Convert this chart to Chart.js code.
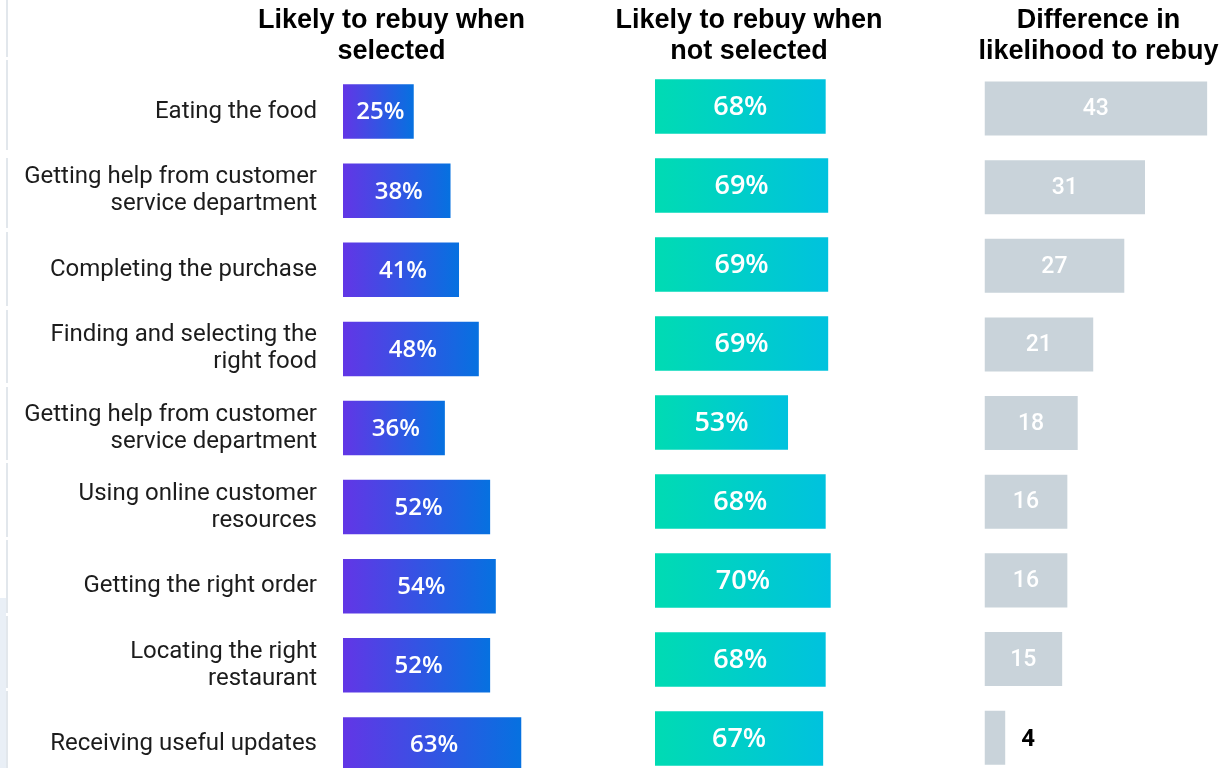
<!DOCTYPE html>
<html>
<head>
<meta charset="utf-8">
<script src="https://cdn.jsdelivr.net/npm/chart.js@4.4.1/dist/chart.umd.min.js"></script>
<style>
  html, body { margin: 0; padding: 0; background: #ffffff; overflow: hidden; }
  #stage { position: relative; width: 1232px; height: 768px; overflow: hidden; background: #ffffff; }
  #stage canvas { position: absolute; top: 0; }
</style>
</head>
<body>
<div id="stage">
  <canvas id="selectedChart" width="783" height="784" style="left:0px"></canvas>
  <canvas id="notSelectedChart" width="314" height="778" style="left:592px"></canvas>
  <canvas id="differenceChart" width="267" height="777" style="left:965px"></canvas>
</div>
<script>
// Customer journey steps (shared row order for all three panels)
const categories = [
  ["Eating the food"],
  ["Getting help from customer", "service department"],
  ["Completing the purchase"],
  ["Finding and selecting the", "right food"],
  ["Getting help from customer", "service department"],
  ["Using online customer", "resources"],
  ["Getting the right order"],
  ["Locating the right", "restaurant"],
  ["Receiving useful updates"]
];

// Share likely to rebuy, in percent
const selectedValues = [25, 38, 41, 48, 36, 52, 54, 52, 63];
const notSelectedValues = [68, 69, 69, 69, 53, 68, 70, 68, 67];

// Difference in likelihood to rebuy, percentage points
const differenceValues = [43, 31, 27, 21, 18, 16, 16, 15, 4];

// Panel headings
const panelTitles = [
  ["Likely to rebuy when", "selected"],
  ["Likely to rebuy when", "not selected"],
  ["Difference in", "likelihood to rebuy"]
];

const TITLE_FONT = { family: "'Liberation Sans', Arial, sans-serif", size: 27, weight: "bold", lineHeight: 31 / 27 };
const LABEL_FONT = "'Roboto', 'Noto Sans', sans-serif";
const VALUE_FONT = "'Open Sans', 'Noto Sans', sans-serif";

// Writes each bar's value inside it, or just past its end when the bar is too short
const barValueLabels = {
  id: "barValueLabels",
  afterDatasetsDraw(chart, args, opts) {
    const ctx = chart.ctx;
    const meta = chart.getDatasetMeta(0);
    const values = chart.data.datasets[0].data;
    meta.data.forEach((bar, i) => {
      const text = values[i] + (opts.suffix || "");
      const width = Math.abs(bar.x - bar.base);
      ctx.save();
      ctx.textBaseline = "middle";
      if (width < opts.minInside) {
        ctx.font = opts.outsideFont;
        ctx.fillStyle = opts.outsideColor;
        ctx.textAlign = "left";
        ctx.fillText(text, bar.x + opts.outsideGap, bar.y + 2);
      } else {
        ctx.font = opts.font;
        ctx.fillStyle = opts.color;
        ctx.textAlign = "center";
        ctx.fillText(text, (bar.x + bar.base) / 2 + (opts.dx || 0), bar.y + 1);
      }
      ctx.restore();
    });
  }
};

// Thin segmented rule along the left edge of the page
const edgeRule = {
  id: "edgeRule",
  beforeDraw(chart) {
    const ctx = chart.ctx;
    const cuts = [0, 57, 60, 150, 158, 228, 232, 306, 310, 383, 387, 460, 463, 537, 540, 613, 616, 688, 691, 784];
    ctx.save();
    ctx.fillStyle = "#e9eff6";
    ctx.fillRect(0, 598, 6, 186);
    ctx.strokeStyle = "#e2e7ec";
    ctx.lineWidth = 2;
    for (let i = 0; i < cuts.length; i += 2) {
      ctx.beginPath();
      ctx.moveTo(7, cuts[i]);
      ctx.lineTo(7, cuts[i + 1]);
      ctx.stroke();
    }
    ctx.restore();
  }
};

function gradientFill(fromColor, toColor) {
  return function (context) {
    const chart = context.chart;
    const xScale = chart.scales.x;
    if (!chart.chartArea || !xScale) return fromColor;
    const x0 = xScale.getPixelForValue(0);
    const x1 = xScale.getPixelForValue(context.raw);
    if (!isFinite(x0) || !isFinite(x1) || x1 - x0 < 1) return fromColor;
    const g = chart.ctx.createLinearGradient(x0, 0, x1, 0);
    g.addColorStop(0, fromColor);
    g.addColorStop(1, toColor);
    return g;
  };
}

function buildPanel(canvasId, values, title, opts) {
  return new Chart(document.getElementById(canvasId), {
    type: "bar",
    data: {
      labels: categories,
      datasets: [{
        data: values,
        backgroundColor: opts.fill,
        borderWidth: 0,
        categoryPercentage: 1,
        barPercentage: opts.barPercentage
      }]
    },
    options: {
      indexAxis: "y",
      responsive: false,
      animation: false,
      events: [],
      layout: { padding: 0 },
      scales: {
        x: {
          display: false,
          min: 0,
          max: opts.xMax
        },
        y: {
          display: true,
          grid: { display: false, drawTicks: false },
          border: { display: false },
          ticks: {
            display: opts.showLabels,
            autoSkip: false,
            padding: 26,
            color: "#1c1c1c",
            font: { family: LABEL_FONT, size: 24, lineHeight: 27 / 24 }
          },
          afterFit(scale) {
            scale.width = opts.axisWidth;
            scale.paddingTop = 0;
            scale.paddingBottom = 0;
          }
        }
      },
      plugins: {
        legend: { display: false },
        tooltip: { enabled: false },
        title: {
          display: true,
          text: title,
          color: "#000000",
          font: TITLE_FONT,
          padding: { top: 5, bottom: opts.titleGap }
        },
        barValueLabels: opts.labels
      }
    },
    plugins: opts.extraPlugins
  });
}

buildPanel("selectedChart", selectedValues, panelTitles[0], {
  fill: gradientFill("#6236e6", "#0671e0"),
  xMax: 155.5,
  axisWidth: 343,
  showLabels: true,
  titleGap: 5,
  barPercentage: 54.5 / 79.1,
  labels: { suffix: "%", font: "600 24px " + VALUE_FONT, color: "#ffffff", minInside: 0, dx: 2 },
  extraPlugins: [barValueLabels, edgeRule]
});

buildPanel("notSelectedChart", notSelectedValues, panelTitles[1], {
  fill: gradientFill("#00dbb3", "#00c2de"),
  xMax: 100,
  axisWidth: 63,
  showLabels: false,
  titleGap: 0,
  barPercentage: 54.5 / 79,
  labels: { suffix: "%", font: "600 27px " + VALUE_FONT, color: "#ffffff", minInside: 0 },
  extraPlugins: [barValueLabels]
});

buildPanel("differenceChart", differenceValues, panelTitles[2], {
  fill: "#c9d3da",
  xMax: 47.8,
  axisWidth: 19.5,
  showLabels: false,
  titleGap: 2.2,
  barPercentage: 54 / 78.6,
  labels: {
    suffix: "",
    font: "500 23px " + LABEL_FONT,
    color: "#ffffff",
    minInside: 40,
    outsideFont: "bold 24px " + LABEL_FONT,
    outsideColor: "#000000",
    outsideGap: 16
  },
  extraPlugins: [barValueLabels]
});
</script>
</body>
</html>
